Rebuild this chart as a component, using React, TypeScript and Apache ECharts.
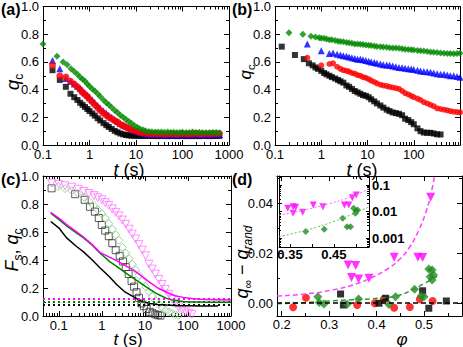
import React, { useEffect, useRef } from 'react';
import * as echarts from 'echarts';

const FONT = '"Liberation Sans", Arial, Helvetica, sans-serif';

// ---------------- Panel (a): q_c vs t ----------------
const aT = [0.16, 0.23, 0.31, 0.39, 0.47, 0.55, 0.63, 0.71, 0.8, 0.9, 1.0, 1.15, 1.3, 1.5, 1.7, 2.0, 2.3, 2.6, 3.0, 3.5, 4.0, 4.6, 5.3, 6.1, 7.0, 8.0, 9.2, 10.6, 12, 14, 16, 19, 22, 26, 30, 35, 41, 48, 56, 65, 76, 88, 100, 120, 140, 165, 195, 230, 270, 320, 380, 450, 530, 620];
const aBlack = [0.54, 0.47, 0.42, 0.37, 0.345, 0.325, 0.305, 0.29, 0.275, 0.26, 0.245, 0.228, 0.212, 0.193, 0.177, 0.158, 0.143, 0.13, 0.116, 0.102, 0.092, 0.083, 0.077, 0.072, 0.069, 0.068, 0.067, 0.066, 0.067, 0.066, 0.065, 0.066, 0.065, 0.066, 0.064, 0.066, 0.065, 0.064, 0.066, 0.065, 0.064, 0.066, 0.065, 0.064, 0.066, 0.064, 0.065, 0.064, 0.066, 0.065, 0.064, 0.065, 0.066, 0.065];
const aBlue = [0.61, 0.55, 0.48, 0.46, 0.44, 0.425, 0.41, 0.39, 0.375, 0.36, 0.345, 0.325, 0.305, 0.285, 0.265, 0.245, 0.23, 0.215, 0.2, 0.185, 0.17, 0.155, 0.145, 0.135, 0.125, 0.115, 0.105, 0.098, 0.09, 0.085, 0.08, 0.078, 0.076, 0.075, 0.074, 0.073, 0.072, 0.074, 0.071, 0.072, 0.07, 0.073, 0.075, 0.072, 0.074, 0.078, 0.08, 0.074, 0.072, 0.07, 0.073, 0.076, 0.074, 0.075];
const aRed = [0.575, 0.5, 0.49, 0.46, 0.44, 0.42, 0.4, 0.38, 0.365, 0.35, 0.33, 0.31, 0.29, 0.27, 0.25, 0.23, 0.215, 0.2, 0.19, 0.175, 0.165, 0.15, 0.14, 0.13, 0.12, 0.11, 0.105, 0.098, 0.092, 0.088, 0.085, 0.083, 0.08, 0.082, 0.079, 0.081, 0.078, 0.08, 0.082, 0.079, 0.078, 0.08, 0.083, 0.079, 0.08, 0.082, 0.085, 0.08, 0.078, 0.082, 0.08, 0.084, 0.081, 0.083];
const aGreenT = [0.1, 0.2, 0.27, 0.33, 0.4, 0.47, 0.55, 0.63, 0.71, 0.8, 0.9, 1.0, 1.15, 1.3, 1.5, 1.7, 2.0, 2.3, 2.6, 3.0, 3.5, 4.0, 4.6, 5.3, 6.1, 7.0, 8.0, 9.2, 10.6, 12, 14, 16, 19, 22, 26, 30, 35, 41, 48, 56, 65, 76, 88, 100, 120, 140, 165, 195, 230, 270, 320, 380, 450, 530, 620];
const aGreen = [0.73, 0.64, 0.6, 0.58, 0.55, 0.53, 0.51, 0.49, 0.475, 0.46, 0.44, 0.425, 0.405, 0.39, 0.37, 0.35, 0.325, 0.305, 0.29, 0.27, 0.25, 0.235, 0.215, 0.2, 0.185, 0.17, 0.155, 0.14, 0.128, 0.118, 0.11, 0.103, 0.098, 0.095, 0.094, 0.093, 0.093, 0.092, 0.093, 0.091, 0.092, 0.09, 0.091, 0.092, 0.09, 0.091, 0.093, 0.09, 0.092, 0.09, 0.089, 0.09, 0.091, 0.09, 0.088];

// ---------------- Panel (b): q_c vs t ----------------
const bBlackT = [0.14, 0.27, 0.42, 0.54, 0.65, 0.75, 0.85, 1.0, 1.15, 1.3, 1.5, 1.7, 2.0, 2.3, 2.6, 3.0, 3.5, 4.0, 4.6, 5.3, 6.1, 7, 8, 9.2, 10.6, 12, 14, 16, 19, 22, 26, 30, 35, 41, 48, 56, 65, 76, 88, 100, 120, 140, 165, 195, 230, 270, 320, 380];
const bBlack = [0.71, 0.65, 0.62, 0.59, 0.575, 0.56, 0.55, 0.535, 0.52, 0.51, 0.5, 0.49, 0.48, 0.47, 0.46, 0.45, 0.43, 0.42, 0.405, 0.39, 0.38, 0.37, 0.36, 0.355, 0.345, 0.33, 0.315, 0.3, 0.285, 0.27, 0.255, 0.245, 0.235, 0.23, 0.225, 0.215, 0.19, 0.18, 0.165, 0.15, 0.12, 0.1, 0.09, 0.088, 0.088, 0.083, 0.077, 0.076];
const bT = [0.5, 1.0, 1.5, 1.8, 2.2, 2.6, 3.0, 3.5, 4.0, 4.6, 5.3, 6.1, 7, 8, 9.2, 10.6, 12, 14, 16, 19, 22, 26, 30, 35, 41, 48, 56, 65, 76, 88, 100, 120, 140, 165, 195, 230, 270, 320, 380, 450, 530, 620, 730, 860, 1000];
const bRed = [0.63, 0.575, 0.585, 0.59, 0.565, 0.55, 0.54, 0.535, 0.53, 0.52, 0.515, 0.505, 0.5, 0.49, 0.485, 0.475, 0.465, 0.455, 0.445, 0.435, 0.43, 0.425, 0.42, 0.415, 0.41, 0.405, 0.39, 0.375, 0.365, 0.355, 0.345, 0.335, 0.325, 0.31, 0.3, 0.29, 0.28, 0.265, 0.26, 0.255, 0.25, 0.245, 0.24, 0.238, 0.235];
const bBlue = [0.73, 0.68, 0.66, 0.665, 0.655, 0.65, 0.645, 0.64, 0.635, 0.63, 0.625, 0.62, 0.62, 0.615, 0.61, 0.605, 0.6, 0.595, 0.59, 0.585, 0.58, 0.578, 0.575, 0.57, 0.565, 0.56, 0.558, 0.555, 0.55, 0.548, 0.545, 0.54, 0.535, 0.53, 0.528, 0.525, 0.52, 0.515, 0.51, 0.51, 0.505, 0.5, 0.5, 0.495, 0.49];
const bGreenT = [0.2, 0.4, 0.6, 0.75, 0.9, 1.0, 1.15, 1.3, 1.5, 1.7, 2.0, 2.3, 2.6, 3.0, 3.5, 4.0, 4.6, 5.3, 6.1, 7, 8, 9.2, 10.6, 12, 14, 16, 19, 22, 26, 30, 35, 41, 48, 56, 65, 76, 88, 100, 120, 140, 165, 195, 230, 270, 320, 380, 450, 530, 620, 730, 860, 1000];
const bGreen = [0.81, 0.8, 0.785, 0.78, 0.775, 0.77, 0.77, 0.765, 0.76, 0.76, 0.755, 0.75, 0.748, 0.745, 0.74, 0.738, 0.735, 0.73, 0.73, 0.728, 0.725, 0.722, 0.72, 0.718, 0.715, 0.712, 0.71, 0.708, 0.705, 0.703, 0.7, 0.7, 0.698, 0.695, 0.692, 0.69, 0.688, 0.686, 0.683, 0.68, 0.678, 0.675, 0.672, 0.67, 0.668, 0.665, 0.662, 0.66, 0.66, 0.658, 0.66, 0.662];

// ---------------- Panel (c): F_s (open) and q_c (lines) ----------------
const cBlackLineT = [0.065, 0.1, 0.15, 0.25, 0.37, 0.6, 0.9, 1.5, 2.2, 3.5, 5.35, 8, 13, 20, 32, 60, 100, 200, 380, 500];
const cBlackLine = [0.675, 0.63, 0.56, 0.5, 0.46, 0.4, 0.345, 0.28, 0.225, 0.17, 0.138, 0.108, 0.09, 0.082, 0.078, 0.074, 0.073, 0.072, 0.071, 0.072];
const cLineT = [0.065, 0.1, 0.15, 0.25, 0.37, 0.6, 0.9, 1.5, 2.2, 3.5, 5.35, 8, 13, 20, 32, 50, 78, 120, 190, 300, 500, 1000];
const cMagLine = [0.74, 0.7, 0.655, 0.605, 0.566, 0.51, 0.455, 0.42, 0.395, 0.36, 0.33, 0.29, 0.24, 0.2, 0.17, 0.145, 0.133, 0.125, 0.12, 0.117, 0.116, 0.115];
const cGreenLine = [0.735, 0.69, 0.645, 0.595, 0.56, 0.505, 0.45, 0.39, 0.355, 0.31, 0.27, 0.235, 0.19, 0.155, 0.126, 0.11, 0.103, 0.1, 0.1, 0.098, 0.099, 0.098];
const cRandMag = 0.118;
const cRandGreen = 0.1;
const cRandBlack = 0.082;
const cSqT = [0.068, 0.24, 0.4, 0.53, 0.69, 0.85, 1.0, 1.2, 1.45, 1.75, 2.1, 2.6, 3.1, 3.6, 4.2, 4.9, 5.6, 6.4, 7.3, 8.3, 9.5, 11, 13, 15, 17.5, 20, 23];
const cSq = [0.912, 0.87, 0.83, 0.78, 0.745, 0.7, 0.65, 0.61, 0.57, 0.52, 0.47, 0.43, 0.39, 0.35, 0.3, 0.25, 0.21, 0.17, 0.13, 0.09, 0.07, 0.05, 0.03, 0.02, 0.012, 0.006, 0.003];
const cDiaT = [0.096, 0.14, 0.2, 0.28, 0.38, 0.5, 0.65, 0.8, 1.0, 1.2, 1.45, 1.75, 2.1, 2.5, 3.0, 3.6, 4.3, 5.1, 6.1, 7.3, 8.7, 10.4, 12.4, 14.8, 17.6, 21, 25, 30, 36, 43, 51, 61];
const cDia = [0.924, 0.91, 0.895, 0.875, 0.85, 0.82, 0.79, 0.76, 0.73, 0.7, 0.66, 0.62, 0.58, 0.54, 0.49, 0.45, 0.41, 0.37, 0.33, 0.29, 0.25, 0.21, 0.175, 0.14, 0.11, 0.085, 0.06, 0.042, 0.028, 0.018, 0.01, 0.005];
const cTriT = [0.068, 0.1, 0.14, 0.2, 0.28, 0.38, 0.5, 0.65, 0.8, 1.0, 1.2, 1.45, 1.75, 2.1, 2.5, 3.0, 3.6, 4.3, 5.1, 6.1, 7.3, 8.7, 10.4, 12.4, 14.8, 17.6, 21, 25, 30, 36, 43, 51, 61, 73, 87, 104, 124];
const cTri = [0.948, 0.94, 0.93, 0.92, 0.905, 0.89, 0.875, 0.86, 0.845, 0.83, 0.81, 0.79, 0.765, 0.74, 0.715, 0.685, 0.655, 0.62, 0.585, 0.55, 0.51, 0.47, 0.43, 0.37, 0.335, 0.3, 0.26, 0.225, 0.19, 0.155, 0.12, 0.09, 0.065, 0.045, 0.03, 0.02, 0.012];

// ---------------- Panel (d): q_inf - q_rand vs phi ----------------
const dMag = [[0.340, 0.0152], [0.356, 0.0150], [0.347, 0.0102], [0.362, 0.0096], [0.384, 0.0099], [0.437, 0.0183], [0.487, 0.0183], [0.497, 0.0182], [0.514, 0.0423]];
const dGreen = [[0.276, 0.0025], [0.279, 0.0002], [0.289, -0.0004], [0.338, -0.0005], [0.362, 0.0016], [0.426, -0.0006], [0.44, 0.0025], [0.48, 0.0055], [0.494, 0.0028], [0.5, 0.0025], [0.51, 0.0136], [0.517, 0.0132], [0.513, 0.0105], [0.517, 0.0092], [0.52, 0.0112]];
const dRed = [[0.224, -0.0017], [0.251, 0.0021], [0.359, -0.0008], [0.396, -0.0001], [0.415, 0.0015], [0.437, -0.0019], [0.47, -0.0016], [0.491, 0.0015], [0.518, 0.0008]];
const dBlack = [[0.324, 0.0036], [0.33, -0.0008], [0.405, -0.0001], [0.419, 0.0019], [0.497, 0.0049], [0.51, -0.0021], [0.547, 0.0008]];
const dMagFit = [[0.19, 0.0028], [0.25, 0.0036], [0.306, 0.0052], [0.35, 0.0072], [0.39, 0.0102], [0.42, 0.0133], [0.447, 0.0172], [0.47, 0.0225], [0.489, 0.0292], [0.505, 0.037], [0.515, 0.044], [0.522, 0.0508]];
const dGreenFit = [[0.19, -0.0003], [0.25, 0.0002], [0.306, 0.0009], [0.35, 0.0013], [0.41, 0.002], [0.445, 0.003], [0.475, 0.0052], [0.5, 0.0078], [0.52, 0.0098], [0.531, 0.0112]];
const insetMag = [[0.345, 0.0134], [0.357, 0.0154], [0.363, 0.0146], [0.357, 0.0087], [0.379, 0.0095], [0.403, 0.0178], [0.425, 0.0154], [0.474, 0.0178], [0.484, 0.0178], [0.492, 0.0334], [0.501, 0.042]];
const insetGreen = [[0.386, 0.00178], [0.428, 0.0022], [0.47, 0.0057], [0.48, 0.0027], [0.488, 0.0027], [0.495, 0.0134], [0.504, 0.0116], [0.499, 0.0087], [0.501, 0.0106]];
const insetMagFit = [[0.325, 0.0075], [0.36, 0.0095], [0.4, 0.0135], [0.44, 0.02], [0.48, 0.032], [0.51, 0.05], [0.53, 0.075]];
const insetGreenFit = [[0.325, 0.00116], [0.37, 0.0017], [0.41, 0.0026], [0.45, 0.0043], [0.49, 0.0078], [0.53, 0.0154]];

// tick values
const dXTicks = [0.2, 0.3, 0.4, 0.5];
const dXMinor = [0.25, 0.35, 0.45, 0.55];
const dYTicks = [0, 0.02, 0.04];
const dYMinor = [0.01, 0.03, 0.05];
const insetXLabels = [0.35, 0.45];
const insetXTicks = [0.35, 0.4, 0.45, 0.5];

const pts = (xs: number[], ys: number[]) => xs.map((x, i) => [x, ys[i]]);

const LS = { color: '#000', width: 1 };
const labelStyle = { color: '#000', fontSize: 13, fontFamily: FONT, lineHeight: 10 };

function logFmt(maxShown: number) {
  return (v: number) => {
    const l = Math.log10(v);
    const r = Math.round(l);
    if (Math.abs(l - r) > 1e-6 || v > maxShown * 1.001) return '';
    return r < 0 ? Math.pow(10, r).toFixed(-r) : String(Math.round(Math.pow(10, r)));
  };
}

function logXPair(grid: number, min: number, max: number, maxShown: number, margin: number) {
  const base: any = {
    type: 'log', logBase: 10, gridIndex: grid, min, max,
    axisLine: { show: true, onZero: false, lineStyle: LS },
    axisTick: { show: true, inside: true, length: 5, lineStyle: LS },
    minorTick: { show: true, splitNumber: 9, length: 3, lineStyle: LS },
    splitLine: { show: false }, minorSplitLine: { show: false },
  };
  return [
    { ...base, position: 'bottom', axisLabel: { ...labelStyle, margin, formatter: logFmt(maxShown) } },
    { ...base, position: 'top', axisLabel: { show: false } },
  ];
}

function linYPair(grid: number) {
  const base: any = {
    type: 'value', gridIndex: grid, min: 0, max: 1, interval: 0.2,
    axisLine: { show: true, onZero: false, lineStyle: LS },
    axisTick: { show: true, inside: true, length: 5, lineStyle: LS },
    minorTick: { show: true, splitNumber: 2, length: 3, lineStyle: LS },
    splitLine: { show: false }, minorSplitLine: { show: false },
  };
  return [
    { ...base, position: 'left', axisLabel: { ...labelStyle, lineHeight: 6, margin: 4, formatter: (v: number) => v.toFixed(1) } },
    { ...base, position: 'right', axisLabel: { show: false } },
  ];
}

function customAxis(type: string, grid: number, min: number, max: number, position: string, ticks: number[], len: number, line: boolean, label: any) {
  return {
    type, gridIndex: grid, min, max, position,
    axisLine: { show: line, onZero: false, lineStyle: LS },
    axisTick: { show: true, inside: true, length: len, lineStyle: LS, customValues: ticks },
    axisLabel: label || { show: false },
    splitLine: { show: false },
  };
}

function sc(xi: number, yi: number, data: any[], symbol: string, size: number, color: string, extra: any = {}) {
  return { type: 'scatter', xAxisIndex: xi, yAxisIndex: yi, data, symbol, symbolSize: size, itemStyle: { color }, silent: true, ...extra };
}
function open(xi: number, yi: number, data: any[], symbol: string, size: number, color: string, extra: any = {}) {
  return { type: 'scatter', xAxisIndex: xi, yAxisIndex: yi, data, symbol, symbolSize: size, itemStyle: { color: 'rgba(0,0,0,0)', borderColor: color, borderWidth: 1 }, silent: true, ...extra };
}
function ln(xi: number, yi: number, data: any[], color: string, width: number, type: any = 'solid', smooth: any = false, extra: any = {}) {
  return { type: 'line', xAxisIndex: xi, yAxisIndex: yi, data, showSymbol: false, symbol: 'none', lineStyle: { color, width, type }, smooth, silent: true, z: 3, ...extra };
}
function hline(value: number, color: string, type: any, width: number) {
  return { silent: true, symbol: 'none', label: { show: false }, data: [{ yAxis: value }], lineStyle: { color, type, width } };
}

const RICH = (big: number, small: number, pad: number) => ({
  i: { fontFamily: FONT, fontSize: big, fontStyle: 'italic', fill: '#000' },
  n: { fontFamily: FONT, fontSize: big, fill: '#000' },
  s: { fontFamily: FONT, fontSize: small, fill: '#000', padding: [pad, 0, 0, 0] },
  si: { fontFamily: FONT, fontSize: small, fontStyle: 'italic', fill: '#000', padding: [pad, 0, 0, 0] },
});

function title(x: number, y: number, text: string, rot: number, big = 18, small = 12, pad = 12) {
  return { type: 'text', x, y, rotation: rot, silent: true, style: { text, rich: RICH(big, small, pad), align: 'center', verticalAlign: 'middle', fill: '#000', fontFamily: FONT, fontSize: big } };
}
function panelLabel(x: number, y: number, text: string) {
  return { type: 'text', x, y, silent: true, style: { text, fontFamily: FONT, fontSize: 16, fontWeight: 'bold', fill: '#000' } };
}

function buildOption() {
  const xAxis: any[] = [];
  const yAxis: any[] = [];
  xAxis.push(...logXPair(0, 0.1, 1000, 1000, 4)); // 0,1
  xAxis.push(...logXPair(1, 0.1, 1000, 100, 4)); // 2,3
  xAxis.push(...logXPair(2, 0.043, 1000, 1000, 4)); // 4,5
  yAxis.push(...linYPair(0)); // 0,1
  yAxis.push(...linYPair(1)); // 2,3
  yAxis.push(...linYPair(2)); // 4,5

  const dxl = { ...labelStyle, margin: 3, customValues: dXTicks, formatter: (v: number) => v.toFixed(1) };
  xAxis.push(
    customAxis('value', 3, 0.19, 0.58, 'bottom', dXTicks, 5, true, dxl), // 6
    customAxis('value', 3, 0.19, 0.58, 'top', dXTicks, 5, true, null), // 7
    customAxis('value', 3, 0.19, 0.58, 'bottom', dXMinor, 3, false, null), // 8
    customAxis('value', 3, 0.19, 0.58, 'top', dXMinor, 3, false, null), // 9
  );
  const dyl = { ...labelStyle, lineHeight: 6, margin: 4, customValues: dYTicks, formatter: (v: number) => v.toFixed(2) };
  yAxis.push(
    customAxis('value', 3, -0.0052, 0.0508, 'left', dYTicks, 5, true, dyl), // 6
    customAxis('value', 3, -0.0052, 0.0508, 'right', dYTicks, 5, true, null), // 7
    customAxis('value', 3, -0.0052, 0.0508, 'left', dYMinor, 3, false, null), // 8
    customAxis('value', 3, -0.0052, 0.0508, 'right', dYMinor, 3, false, null), // 9
  );
  const ixl = { ...labelStyle, fontSize: 13, fontWeight: 'bold', margin: 2, customValues: insetXLabels, formatter: (v: number) => v.toFixed(2) };
  xAxis.push(
    customAxis('value', 4, 0.325, 0.53, 'bottom', insetXTicks, 3, true, ixl), // 10
    customAxis('value', 4, 0.325, 0.53, 'top', insetXTicks, 3, true, null), // 11
  );
  const iyBase: any = {
    type: 'log', logBase: 10, gridIndex: 4, min: 0.00047, max: 0.22,
    axisLine: { show: true, onZero: false, lineStyle: LS },
    axisTick: { show: true, inside: true, length: 3, lineStyle: LS },
    minorTick: { show: true, splitNumber: 9, length: 2, lineStyle: LS },
    splitLine: { show: false }, minorSplitLine: { show: false },
  };
  yAxis.push(
    { ...iyBase, position: 'right', axisLabel: { ...labelStyle, fontSize: 13, fontWeight: 'bold', margin: 3, formatter: logFmt(1) } }, // 10
    { ...iyBase, position: 'left', axisLabel: { show: false } }, // 11
  );

  const BLACK = '#000000', RED = '#ff0000', BLUE = '#0000ff', GREEN = '#008a00', MAG = '#ff00ff';
  const series: any[] = [
    // (a)
    sc(0, 0, pts(aT, aBlack), 'rect', 6, BLACK),
    sc(0, 0, pts(aT, aBlue), 'triangle', 7, BLUE),
    sc(0, 0, pts(aT, aRed), 'circle', 7, RED),
    sc(0, 0, pts(aGreenT, aGreen), 'diamond', 7, GREEN),
    // (b)
    sc(2, 2, pts(bBlackT, bBlack), 'rect', 6, BLACK),
    sc(2, 2, pts(bT, bRed), 'circle', 6, RED),
    sc(2, 2, pts(bT, bBlue), 'triangle', 7, BLUE),
    sc(2, 2, pts(bGreenT, bGreen), 'diamond', 7, GREEN),
    // (c)
    open(4, 4, pts(cSqT, cSq), 'rect', 7, '#333333'),
    open(4, 4, pts(cDiaT, cDia), 'diamond', 8, '#88c888'),
    open(4, 4, pts(cTriT, cTri), 'triangle', 8, '#ff77ff', { symbolRotate: 180 }),
    ln(4, 4, pts(cBlackLineT, cBlackLine), BLACK, 1.5, 'solid', false, { markLine: hline(cRandBlack, BLACK, [2, 3], 2) }),
    ln(4, 4, pts(cLineT, cGreenLine), '#008000', 1.5, 'solid', false, { markLine: hline(cRandGreen, '#008000', [2, 3], 2) }),
    ln(4, 4, pts(cLineT, cMagLine), MAG, 1.5, 'solid', false, { markLine: hline(cRandMag, MAG, [2, 3], 2) }),
    // (d)
    ln(6, 6, dMagFit, '#ff40ff', 1.5, [5, 3], true, { markLine: hline(0, BLACK, [5, 3], 1.5) }),
    ln(6, 6, dGreenFit, '#2e9a2e', 1.5, [5, 3], true),
    sc(6, 6, dRed, 'circle', 8, RED),
    sc(6, 6, dBlack, 'rect', 7, BLACK),
    sc(6, 6, dGreen, 'diamond', 9, '#1f8a1f'),
    sc(6, 6, dMag, 'triangle', 9, MAG, { symbolRotate: 180 }),
    // inset
    ln(10, 10, insetMagFit, '#ff66ff', 1, [2, 2], true),
    ln(10, 10, insetGreenFit, '#66bb66', 1, [2, 2], true),
    sc(10, 10, insetGreen, 'diamond', 7, '#1f8a1f'),
    sc(10, 10, insetMag, 'triangle', 7, MAG, { symbolRotate: 180 }),
  ];

  const graphic: any[] = [
    panelLabel(1, 1, '(a)'),
    panelLabel(232, 1, '(b)'),
    panelLabel(1, 171, '(c)'),
    panelLabel(232, 171, '(d)'),
    title(12, 82, '{i|q}{s|c}', Math.PI / 2, 19, 12, 13),
    title(245, 72, '{i|q}{s|c}', Math.PI / 2, 17, 11, 12),
    title(12, 250, '{i|F}{s|s}{n|, }{i|q}{s|c}', Math.PI / 2, 18, 12, 12),
    title(242, 262, '{i|q}{s|∞}{n| − }{i|q}{si|rand}', Math.PI / 2, 18, 12, 12),
    title(129, 170, '{i|t}{n| (s)}', 0, 18),
    title(362, 170, '{i|t}{n| (s)}', 0, 18),
    title(128, 339, '{i|t}{n| (s)}', 0, 17),
    title(402, 339, '{i|φ}', 0, 17),
  ];

  return {
    animation: false,
    backgroundColor: '#fff',
    textStyle: { fontFamily: FONT },
    grid: [
      { left: 43, top: 6, width: 186, height: 139, containLabel: false },
      { left: 275, top: 6, width: 186, height: 139, containLabel: false },
      { left: 43, top: 176, width: 188, height: 140, containLabel: false },
      { left: 277, top: 176, width: 185, height: 140, containLabel: false },
      { left: 279, top: 176, width: 90, height: 71, containLabel: false, show: true, backgroundColor: '#fff', borderWidth: 0 },
    ],
    xAxis,
    yAxis,
    series,
    graphic,
  };
}

export default function App() {
  const ref = useRef<HTMLDivElement>(null);
  useEffect(() => {
    const chart = echarts.init(ref.current as HTMLDivElement, null, { renderer: 'svg' });
    chart.setOption(buildOption() as any);
    return () => chart.dispose();
  }, []);
  return <div ref={ref} style={{ position: 'absolute', left: 0, top: 0, width: 463, height: 347, background: '#fff' }} />;
}
